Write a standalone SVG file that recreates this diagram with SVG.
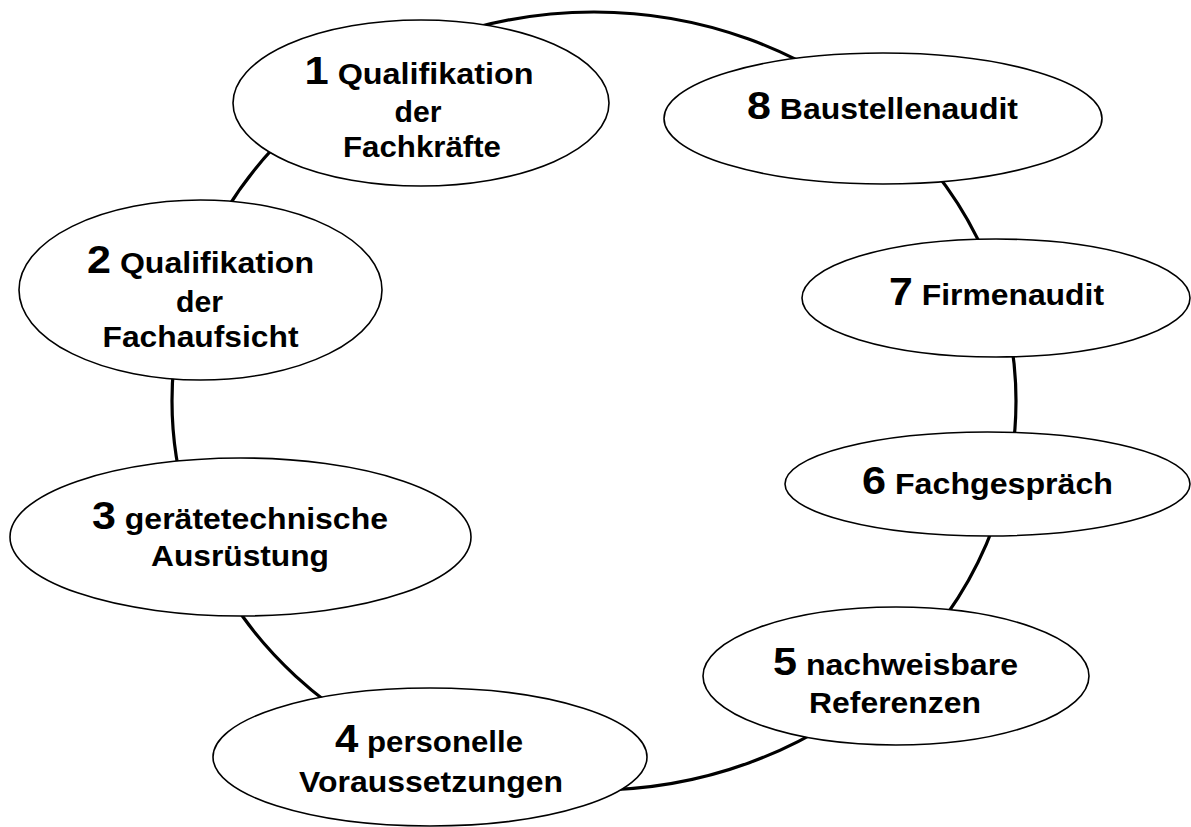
<svg xmlns="http://www.w3.org/2000/svg" width="1191" height="827" viewBox="0 0 1191 827">
  <style>
    .node ellipse { fill: #ffffff; stroke: #000000; stroke-width: 1.6; }
    .node text { font-family: "Liberation Sans", Arial, sans-serif; font-weight: bold; font-size: 29px; fill: #000000; text-anchor: middle; }
    .node .n { font-size: 39px; }
    .ring { fill: none; stroke: #000000; stroke-width: 3.2; }
  </style>
  <rect width="1191" height="827" fill="#ffffff"/>
  <g id="connectors">
    <ellipse class="ring" cx="594" cy="401" rx="422" ry="389"/>
  </g>
  <g id="node1" class="node">
    <ellipse cx="421" cy="103" rx="188" ry="83"/>
    <text x="419" y="84" textLength="229" lengthAdjust="spacingAndGlyphs"><tspan class="n">1</tspan> Qualifikation</text>
    <text x="418" y="122" textLength="47" lengthAdjust="spacingAndGlyphs">der</text>
    <text x="422" y="157" textLength="158" lengthAdjust="spacingAndGlyphs">Fachkräfte</text>
  </g>
  <g id="node2" class="node">
    <ellipse cx="200.5" cy="290" rx="181.5" ry="90"/>
    <text x="200.5" y="273" textLength="227" lengthAdjust="spacingAndGlyphs"><tspan class="n">2</tspan> Qualifikation</text>
    <text x="199.5" y="311.5" textLength="47" lengthAdjust="spacingAndGlyphs">der</text>
    <text x="200.5" y="346.5" textLength="196" lengthAdjust="spacingAndGlyphs">Fachaufsicht</text>
  </g>
  <g id="node3" class="node">
    <ellipse cx="240.5" cy="537" rx="230.5" ry="79"/>
    <text x="240" y="529" textLength="296" lengthAdjust="spacingAndGlyphs"><tspan class="n">3</tspan> gerätetechnische</text>
    <text x="240" y="566" textLength="178" lengthAdjust="spacingAndGlyphs">Ausrüstung</text>
  </g>
  <g id="node4" class="node">
    <ellipse cx="430" cy="757" rx="217" ry="69"/>
    <text x="429" y="752" textLength="188" lengthAdjust="spacingAndGlyphs"><tspan class="n">4</tspan> personelle</text>
    <text x="431" y="792" textLength="264" lengthAdjust="spacingAndGlyphs">Voraussetzungen</text>
  </g>
  <g id="node5" class="node">
    <ellipse cx="896" cy="676" rx="193" ry="69"/>
    <text x="895.5" y="675" textLength="245" lengthAdjust="spacingAndGlyphs"><tspan class="n">5</tspan> nachweisbare</text>
    <text x="895" y="713" textLength="172" lengthAdjust="spacingAndGlyphs">Referenzen</text>
  </g>
  <g id="node6" class="node">
    <ellipse cx="987.5" cy="484" rx="202.5" ry="52"/>
    <text x="987.5" y="494" textLength="251" lengthAdjust="spacingAndGlyphs"><tspan class="n">6</tspan> Fachgespräch</text>
  </g>
  <g id="node7" class="node">
    <ellipse cx="996" cy="298" rx="194" ry="59"/>
    <text x="996.5" y="305" textLength="215" lengthAdjust="spacingAndGlyphs"><tspan class="n">7</tspan> Firmenaudit</text>
  </g>
  <g id="node8" class="node">
    <ellipse cx="883" cy="118.5" rx="219" ry="65.5"/>
    <text x="882.5" y="119" textLength="271" lengthAdjust="spacingAndGlyphs"><tspan class="n">8</tspan> Baustellenaudit</text>
  </g>
</svg>
